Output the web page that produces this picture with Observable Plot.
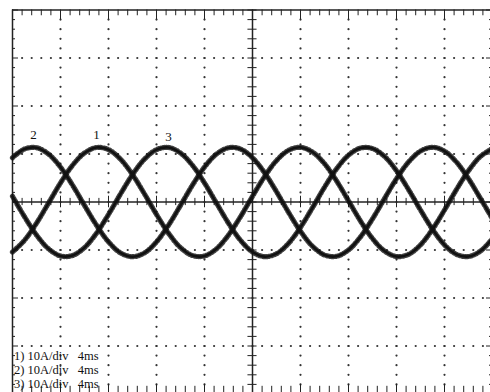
<!DOCTYPE html>
<html>
<head>
<meta charset="utf-8">
<script src="https://cdn.jsdelivr.net/npm/d3@7"></script>
<script src="https://cdn.jsdelivr.net/npm/@observablehq/plot@0.6"></script>
<style>
  html, body { margin: 0; padding: 0; background: #fff; overflow: hidden; }
  #chart svg { display: block; overflow: visible; }
</style>
</head>
<body>
<div id="chart"></div>
<script>
// time axis (ms) — 4 ms/div, 10 divisions
const timeMs = [0,1,2,3,4,5,6,7,8,9,10,11,12,13,14,15,16,17,18,19,20,21,22,23,24,25,26,27,28,29,30,31,32,33,34,35,36,37,38,39,40];
// phase currents (A) — 10 A/div, 8 divisions
const current1 = [-10.41,-7.98,-4.42,-0.24,3.97,7.63,10.21,11.36,10.91,8.93,5.70,1.67,-2.60,-6.51,-9.50,-11.15,-11.24,-9.75,-6.89,-3.07,1.19,5.28,8.63,10.77,11.39,10.41,7.98,4.42,0.24,-3.97,-7.63,-10.21,-11.36,-10.91,-8.93,-5.70,-1.67,2.60,6.51,9.50,11.15];
const current2 = [9.22,11.04,11.31,9.99,7.27,3.52,-0.72,-4.85,-8.31,-10.60,-11.40,-10.60,-8.31,-4.85,-0.72,3.52,7.27,9.99,11.31,11.04,9.22,6.11,2.14,-2.14,-6.11,-9.22,-11.04,-11.31,-9.99,-7.27,-3.52,0.72,4.85,8.31,10.60,11.40,10.60,8.31,4.85,0.72,-3.52];
const current3 = [1.19,-3.07,-6.89,-9.75,-11.24,-11.15,-9.50,-6.51,-2.60,1.67,5.70,8.93,10.91,11.36,10.21,7.63,3.97,-0.24,-4.42,-7.98,-10.41,-11.39,-10.77,-8.63,-5.28,-1.19,3.07,6.89,9.75,11.24,11.15,9.50,6.51,2.60,-1.67,-5.70,-8.93,-10.91,-11.36,-10.21,-7.63];

// trace labels
const traceLabels = ["2", "1", "3"];
const traceLabelTime = [1.75, 7.0, 13.0];
const traceLabelValue = [13.9, 14.0, 13.5];

// settings readout
const readout = ["1) 10A/div\u00a0\u00a0\u00a04ms", "2) 10A/div\u00a0\u00a0\u00a04ms", "3) 10A/div\u00a0\u00a0\u00a04ms"];
const readoutValue = [-32.0, -35.1, -37.9];

// graticule
const xMajor = [0,4,8,12,16,20,24,28,32,36,40];
const yMajor = [-40,-30,-20,-10,0,10,20,30,40];
const xMinor = d3.range(0, 40.001, 0.8);
const yMinor = d3.range(-40, 40.001, 2);

const series = [];
timeMs.forEach((t, i) => {
  series.push({t, v: current1[i], s: 1});
  series.push({t, v: current2[i], s: 2});
  series.push({t, v: current3[i], s: 3});
});

const innerX = xMajor.filter(d => d > 0 && d < 40 && d !== 20);
const innerY = yMajor.filter(d => d > -40 && d < 40 && d !== 0);
const gridDots = [];
innerX.forEach(x => yMinor.filter(y => y > -40 && y < 40).forEach(y => gridDots.push({x, y})));
innerY.forEach(y => xMinor.filter(x => x > 0 && x < 40).forEach(x => gridDots.push({x, y})));

const ink = "#222";
const isMajorX = d => Math.abs(d / 4 - Math.round(d / 4)) < 1e-6;
const isMajorY = d => Math.abs(d / 10 - Math.round(d / 10)) < 1e-6;
const serif = "Liberation Serif, DejaVu Serif, serif";

const chart = Plot.plot({
  width: 490,
  height: 392,
  margin: 0,
  style: {background: "#fff", overflow: "visible"},
  x: {domain: [0, 40], range: [12, 492], axis: null},
  y: {domain: [-40, 40], range: [393.5, 9.5], axis: null},
  marks: [
    Plot.dot(gridDots, {x: "x", y: "y", r: 1.1, fill: "#333", stroke: null}),
    // frame
    Plot.ruleX([0, 40], {x: d => d, y1: -40, y2: 40, stroke: ink, strokeWidth: 1.5}),
    Plot.ruleY([-40, 40], {y: d => d, x1: 0, x2: 40, stroke: ink, strokeWidth: 1.5}),
    // center axes
    Plot.ruleY([0], {y: d => d, x1: 0, x2: 40, stroke: ink, strokeWidth: 1.5}),
    Plot.ruleX([20], {x: d => d, y1: -40, y2: 40, stroke: ink, strokeWidth: 1.5}),
    // top and bottom edge ticks
    Plot.ruleX(xMinor, {x: d => d, y1: 40, y2: d => isMajorX(d) ? 38 : 38.8, stroke: ink, strokeWidth: 1}),
    Plot.ruleX(xMinor, {x: d => d, y1: -40, y2: d => isMajorX(d) ? -38 : -38.4, stroke: ink, strokeWidth: 1}),
    // left and right edge ticks
    Plot.ruleY(yMinor, {y: d => d, x1: 0, x2: d => isMajorY(d) ? 0.5 : 0.25, stroke: ink, strokeWidth: 1}),
    Plot.ruleY(yMinor, {y: d => d, x1: 40, x2: d => isMajorY(d) ? 39.5 : 39.75, stroke: ink, strokeWidth: 1}),
    // center cross ticks
    Plot.ruleX(xMinor, {x: d => d, y1: d => isMajorX(d) ? -1.2 : -0.75, y2: d => isMajorX(d) ? 1.2 : 0.75, stroke: ink, strokeWidth: 1}),
    Plot.ruleY(yMinor, {y: d => d, x1: 19.62, x2: 20.38, stroke: ink, strokeWidth: 1}),
    // waveforms (solid core plus hatched band to mimic trace noise)
    Plot.line(series, {x: "t", y: "v", z: "s", curve: "catmull-rom", stroke: "#111", strokeWidth: 2.6, strokeLinejoin: "round"}),
    Plot.line(series, {x: "t", y: "v", z: "s", curve: "catmull-rom", stroke: "#111", strokeWidth: 5.2, strokeDasharray: "0.9 2.1 0.6 1.7 1.1 2.6", strokeOpacity: 0.8}),
    // trace labels
    Plot.text(traceLabels, {x: (d, i) => traceLabelTime[i], y: (d, i) => traceLabelValue[i], text: d => d,
      fontFamily: serif, fontSize: 13, fill: "#111"}),
    // readout
    Plot.text(readout, {x: 0.12, y: (d, i) => readoutValue[i], text: d => d, textAnchor: "start",
      fontFamily: serif, fontSize: 12.5, fill: "#111"})
  ]
});
document.getElementById("chart").appendChild(chart);
</script>
</body>
</html>
